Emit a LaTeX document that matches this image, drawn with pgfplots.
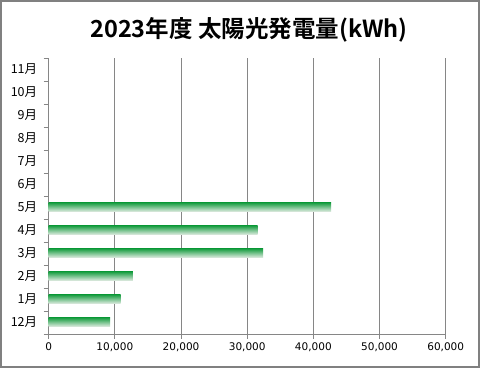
\documentclass[border=0pt]{standalone}
\usepackage{pgfplots}
\pgfplotsset{compat=1.18}
\usepackage{fontspec}
\setmainfont{DejaVu Sans}
\newfontfamily\cjk{Noto Sans CJK JP}
\newfontfamily\cjkb{Noto Sans CJK JP Bold}
\definecolor{gridgray}{RGB}{134,134,134}
\definecolor{bordergray}{RGB}{128,128,128}
\definecolor{bartop}{RGB}{30,160,70}
\definecolor{barbot}{RGB}{232,238,232}
\pgfplotsset{mybar/.style={xbar, bar width=9pt, bar shift=0pt, draw=none, top color=bartop, bottom color=barbot, forget plot}}
\begin{document}
\begin{tikzpicture}[x=1pt,y=1pt]
\path (0,0) rectangle (485,369);
\draw[bordergray, line width=1.4pt] (1,2) rectangle (479,368);
\node[font=\cjkb\fontsize{23.5}{27}\selectfont] at (249,339) {2023年度 太陽光発電量(kWh)};
\begin{axis}[
  at={(48.7pt,35pt)}, anchor=south west,
  scale only axis, width=397pt, height=276pt,
  xmin=0, xmax=60000, ymin=-0.5, ymax=11.5,
  axis lines*=left,
  axis line style={gridgray, line width=0.9pt},
  xtick={0,10000,...,60000},
  scaled x ticks=false,
  xticklabel style={font=\fontsize{10.5}{12}\selectfont, yshift=0pt},
  /pgf/number format/.cd, 1000 sep={,}, assume math mode=true, /pgfplots/.cd,
  xmajorgrids, major grid style={gridgray, line width=0.9pt},
  ytick={-0.5,0.5,...,11.5},
  yticklabels={12月,1月,2月,3月,4月,5月,6月,7月,8月,9月,10月,11月,{}},
  yticklabel style={font=\cjk\fontsize{12.5}{14}\selectfont, yshift=11.5pt, xshift=-3pt},
  tick align=outside,
  major tick length=5pt,
  every tick/.style={gridgray, line width=0.9pt},
]
\addplot[mybar] coordinates {(9270,0)};
\addplot[mybar] coordinates {(10880,1)};
\addplot[mybar] coordinates {(12740,2)};
\addplot[mybar] coordinates {(32390,3)};
\addplot[mybar] coordinates {(31590,4)};
\addplot[mybar] coordinates {(42670,5)};
\end{axis}
\end{tikzpicture}
\end{document}
